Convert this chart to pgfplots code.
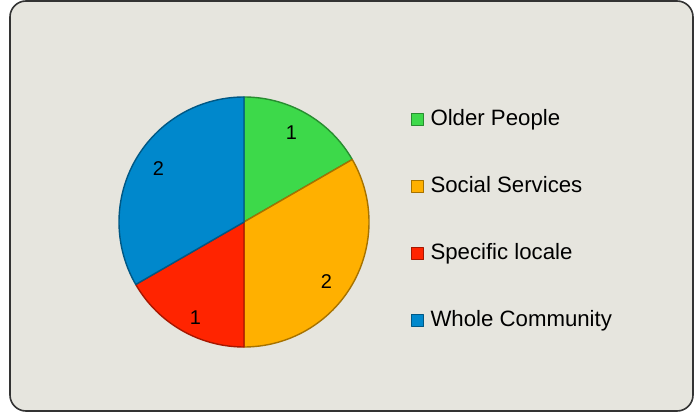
\documentclass[border=0pt]{standalone}
\usepackage{pgfplots}
\usepackage{pgfplotstable}
\pgfplotsset{compat=1.18}
\usepackage{fontspec}
\setmainfont{Liberation Sans}
\definecolor{bgc}{HTML}{E6E5DE}
\definecolor{cgreen}{HTML}{3DD94A}
\definecolor{corange}{HTML}{FFB000}
\definecolor{cred}{HTML}{FF2400}
\definecolor{cblue}{HTML}{0088CC}
\pgfplotstableread[col sep=comma]{
name,value
Older People,1
Social Services,2
Specific locale,1
Whole Community,2
}\piedata
\begin{document}
\begin{tikzpicture}
\pgfplotstablegetelem{0}{value}\of\piedata \let\va\pgfplotsretval
\pgfplotstablegetelem{1}{value}\of\piedata \let\vb\pgfplotsretval
\pgfplotstablegetelem{2}{value}\of\piedata \let\vc\pgfplotsretval
\pgfplotstablegetelem{3}{value}\of\piedata \let\vd\pgfplotsretval
\pgfmathsetmacro\tot{\va+\vb+\vc+\vd}
\pgfmathsetmacro\aA{90}
\pgfmathsetmacro\aB{\aA-360*\va/\tot}
\pgfmathsetmacro\aC{\aB-360*\vb/\tot}
\pgfmathsetmacro\aD{\aC-360*\vc/\tot}
\pgfmathsetmacro\aE{\aD-360*\vd/\tot}
\fill[white] (0,0) rectangle (699bp,412bp);
\draw[line width=1.6bp, draw=black!80, fill=bgc, rounded corners=16bp] (10bp,1bp) rectangle (693bp,411bp);
\begin{axis}[
  scale only axis, width=699bp, height=412bp,
  xmin=0, xmax=699, ymin=0, ymax=412,
  hide axis, clip=false,
  legend style={at={(axis cs:411,303)}, anchor=north west, draw=none, fill=none,
    inner sep=0pt, row sep=46bp, font=\fontsize{22.3}{24}\selectfont,
    nodes={inner sep=0pt, text height=16bp, text depth=5bp}},
  /tikz/every odd column/.append style={column sep=6.5bp},
  legend cell align=left,
  legend image code/.code={\filldraw[line width=0.8bp] (0bp,-6bp) rectangle (12bp,6bp);},
]
\newcommand{\slice}[4]{%
  \addplot[fill=#3, draw=#4, line width=1.4bp, line join=round, domain=#2:#1, samples=80, variable=\t]
    ({244+125*cos(t)},{190+125*sin(t)}) -- (axis cs:244,190) -- cycle;
}
\slice{\aA}{\aB}{cgreen}{cgreen!65!black}
\addlegendentry{Older People}
\slice{\aB}{\aC}{corange}{corange!65!black}
\addlegendentry{Social Services}
\slice{\aC}{\aD}{cred}{cred!65!black}
\addlegendentry{Specific locale}
\slice{\aD}{\aE}{cblue}{cblue!65!black}
\addlegendentry{Whole Community}
\pgfmathsetmacro\mA{(\aA+\aB)/2+2}
\pgfmathsetmacro\mB{(\aB+\aC)/2-6}
\pgfmathsetmacro\mC{(\aC+\aD)/2+3}
\pgfmathsetmacro\mD{(\aD+\aE)/2-2}
\node[font=\fontsize{20}{24}\selectfont] at (axis cs:{244+101*cos(\mA)},{190+101*sin(\mA)}) {\va};
\node[font=\fontsize{20}{24}\selectfont] at (axis cs:{244+102*cos(\mB)},{190+102*sin(\mB)}) {\vb};
\node[font=\fontsize{20}{24}\selectfont] at (axis cs:{244+107*cos(\mC)},{190+107*sin(\mC)}) {\vc};
\node[font=\fontsize{20}{24}\selectfont] at (axis cs:{244+101*cos(\mD)},{190+101*sin(\mD)}) {\vd};
\end{axis}
\end{tikzpicture}
\end{document}
